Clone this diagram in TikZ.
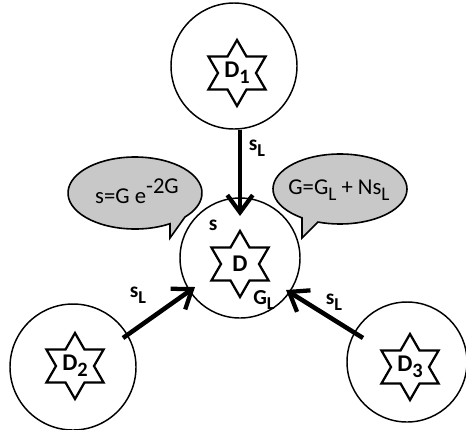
\documentclass[tikz,border=0pt]{standalone}
\usepackage{fontspec}
\setmainfont{Carlito}
\usetikzlibrary{shapes.geometric,arrows.meta,calc}
\definecolor{bubblegray}{RGB}{200,200,200}
\newcommand\lsub[1]{\raisebox{-0.55ex}{\scalebox{0.85}{#1}}}
\newcommand\lsup[1]{\raisebox{0.9ex}{#1}}
\newcommand\hexagram[1]{\draw[starline] ($(#1)+(90:33)$)
  \foreach \a/\r in {120/19,150/33,180/19,210/33,240/19,270/33,300/19,330/33,0/19,30/33,60/19}{ -- ($(#1)+(\a:\r)$)} -- cycle;}
\begin{document}
\begin{tikzpicture}[x=0.75pt,y=-0.75pt,
  ring/.style={circle, draw, line width=1.1pt, minimum size=#1*0.75pt, inner sep=0pt},
  starlabel/.style={inner sep=0pt, font=\fontsize{18}{18}\selectfont\bfseries},
  starline/.style={draw, line width=1.7pt, line join=miter},
  flow/.style={line width=3.4pt, -{Straight Barb[length=13pt,width=19pt,line width=3.2pt]}},
  lab/.style={font=\fontsize{16}{16}\selectfont\bfseries, inner sep=0pt},
  eq/.style={font=\fontsize{17}{17}\selectfont, inner sep=0pt},
  bubble/.style={fill=bubblegray, draw, line width=1.2pt}]
\useasboundingbox (0,0) rectangle (466,429);
\clip (0,0) rectangle (466,429);
% circles
\node[ring=126] (c1) at (234,66) {};
\node[ring=120] (c0) at (240,258) {};
\node[ring=126] (c2) at (73,367) {};
\node[ring=120] (c3) at (407,362) {};
% stars
\coordinate (p1) at (237,73);
\coordinate (p0) at (240,264);
\coordinate (p2) at (75,366);
\coordinate (p3) at (410,367);
\hexagram{p1}
\hexagram{p0}
\hexagram{p2}
\hexagram{p3}
\node[starlabel] (d1) at (p1) {D\lsub{1}};
\node[starlabel] (d0) at (p0) {D};
\node[starlabel] (d2) at (p2) {D\lsub{2}};
\node[starlabel] (d3) at (p3) {D\lsub{3}};
% bubbles
\draw[bubble] (135,193) ++(58.5:67 and 36) arc[start angle=58.5, end angle=401.8, x radius=67, y radius=36] -- (170,238) -- cycle;
\draw[bubble] (340,189) ++(124.6:67 and 35) arc[start angle=124.6, end angle=469.2, x radius=67, y radius=35] -- (302,238) -- cycle;
\node[eq] (e1) at (137,191) {s=G e\lsup{-2G}};
\node[eq] (e2) at (339,190) {G=G\lsub{L} + Ns\lsub{L}};
% arrows
\coordinate (t1) at (240,216);
\coordinate (t2) at (195,287);
\coordinate (t3) at (286,290);
\coordinate (s2) at (123,338);
\coordinate (s3) at (363,338);
\draw[flow] (t1 |- c1.south) -- (t1);
\draw[flow] (s2) -- (t2);
\draw[flow] (s3) -- (t3);
% labels
\node[lab] (l1) at (257,148) {s\lsub{L}};
\node[lab] (l2) at (138,295) {s\lsub{L}};
\node[lab] (l3) at (334,302) {s\lsub{L}};
\node[lab] (ls) at (213,225) {s};
\node[lab] (lg) at (264,300) {G\lsub{L}};
\end{tikzpicture}
\end{document}
